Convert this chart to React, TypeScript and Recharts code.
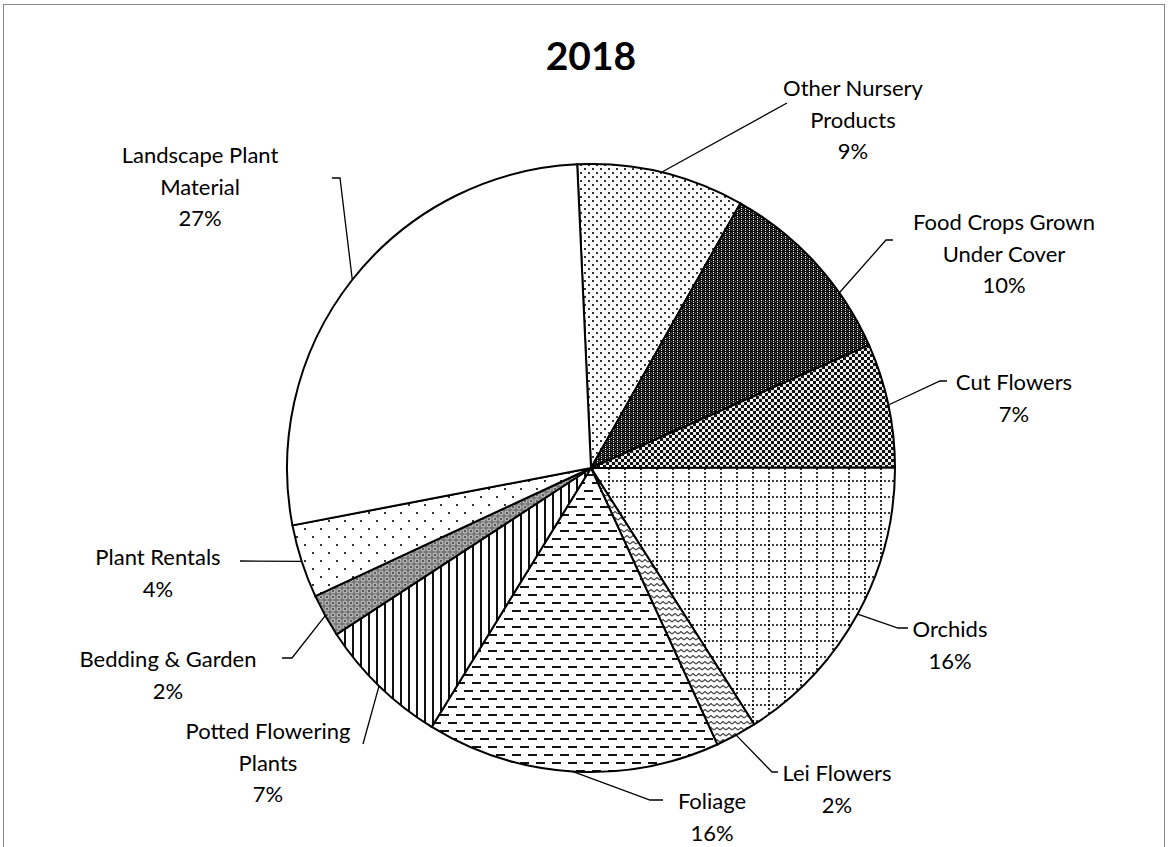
import React from 'react';
import { PieChart, Pie, Cell } from 'recharts';

// slices clockwise from the top, values in percent
const categories = [
  'Other Nursery\nProducts',
  'Food Crops Grown\nUnder Cover',
  'Cut Flowers',
  'Orchids',
  'Lei Flowers',
  'Foliage',
  'Potted Flowering\nPlants',
  'Bedding & Garden',
  'Plant Rentals',
  'Landscape Plant\nMaterial',
];
const shares = [8.9, 10.2, 6.6, 16.0, 2.2, 15.6, 7.0, 2.3, 3.9, 27.3];
const fills = [
  'url(#pOther)',
  'url(#pFood)',
  'url(#pCut)',
  'url(#pOrchid)',
  'url(#pLei)',
  'url(#pFoliage)',
  'url(#pPotted)',
  'url(#pBedding)',
  'url(#pRental)',
  '#ffffff',
];

const data = categories.map((name, i) => ({ name, value: shares[i] }));

// where each data label sits (text centre x, first line y), the leader elbow,
// and how far (deg, clockwise) the leader start is moved off the slice middle
const labelSpots = [
  { x: 853, y: 87, ex: 787, ey: 103, tx: 787, shift: 0 },
  { x: 1004, y: 221, ex: 886, ey: 240, tx: 893, shift: 7 },
  { x: 1014, y: 381, ex: 940, ey: 381, tx: 947, shift: 0 },
  { x: 950, y: 628, ex: 898, ey: 628, tx: 908, shift: 0 },
  { x: 837, y: 772, ex: 772, ey: 772, tx: 778, shift: 0 },
  { x: 712, y: 800, ex: 650, ey: 800, tx: 663, shift: 0 },
  { x: 268, y: 730, ex: 363, ey: 744, tx: 363, shift: 0 },
  { x: 168, y: 658, ex: 292, ey: 658, tx: 282, shift: 0 },
  { x: 158, y: 556, ex: 240, ey: 561, tx: 240, shift: 0 },
  { x: 200, y: 154, ex: 340, ey: 178, tx: 332, shift: 0 },
];

const FONT = 'Lato, "Open Sans", sans-serif';
const RAD = Math.PI / 180;

const renderLabel = (props: any) => {
  const { cx, cy, midAngle, outerRadius, index, percent } = props;
  const spot = labelSpots[index];
  const a = midAngle - spot.shift;
  const sx = cx + outerRadius * Math.cos(-a * RAD);
  const sy = cy + outerRadius * Math.sin(-a * RAD);
  const lines = [...categories[index].split('\n'), `${Math.round(percent * 100)}%`];
  return (
    <g key={`lbl-${index}`}>
      <polyline
        points={`${sx},${sy} ${spot.ex},${spot.ey} ${spot.tx},${spot.ey}`}
        fill="none"
        stroke="#000"
        strokeWidth={1.3}
      />
      <text
        x={spot.x}
        y={spot.y}
        textAnchor="middle"
        dominantBaseline="central"
        fontFamily={FONT}
        fontSize={22}
        fill="#000"
      >
        {lines.map((l, i) => (
          <tspan key={i} x={spot.x} dy={i === 0 ? 0 : 31.5}>
            {l}
          </tspan>
        ))}
      </text>
    </g>
  );
};

export default function App() {
  return (
    <div style={{ position: 'absolute', left: 0, top: 0, width: 1169, height: 847, overflow: 'hidden', background: '#fff' }}>
      <div
        style={{
          position: 'absolute',
          left: 3,
          top: 4,
          width: 1160,
          height: 900,
          border: '1.5px solid #888',
        }}
      />
      <div
        style={{
          position: 'absolute',
          left: 0,
          width: 1182,
          top: 32,
          textAlign: 'center',
          fontFamily: FONT,
          fontWeight: 700,
          fontSize: 39,
          lineHeight: '46px',
        }}
      >
        2018
      </div>
      <div style={{ position: 'absolute', left: 0, top: 0 }}>
        <PieChart width={1169} height={847} margin={{ top: 0, right: 0, bottom: 0, left: 0 }}>
          <defs>
            <pattern id="pOther" width="8" height="8" patternUnits="userSpaceOnUse">
              <rect width="8" height="8" fill="#fff" />
              <rect x="0" y="0" width="2" height="2" fill="#333" />
              <rect x="4" y="4" width="2" height="2" fill="#333" />
            </pattern>
            <pattern id="pFood" width="4" height="4" patternUnits="userSpaceOnUse">
              <rect width="4" height="4" fill="#111" />
              <rect x="1" y="0" width="1" height="1" fill="#fff" />
              <rect x="1" y="2" width="1" height="1" fill="#ddd" />
              <rect x="3" y="1" width="1" height="1" fill="#777" />
            </pattern>
            <pattern id="pCut" width="6" height="6" patternUnits="userSpaceOnUse">
              <rect width="6" height="6" fill="#fff" />
              <rect x="0" y="0" width="3" height="3" fill="#111" />
              <rect x="3" y="3" width="3" height="3" fill="#111" />
              <rect x="3" y="0" width="3" height="3" fill="#bbb" opacity="0.4" />
            </pattern>
            <pattern id="pOrchid" width="16" height="16" patternUnits="userSpaceOnUse">
              <rect width="16" height="16" fill="#fff" />
              <line x1="0" y1="1" x2="16" y2="1" stroke="#000" strokeWidth="1.6" strokeDasharray="2 2" />
              <line x1="1" y1="0" x2="1" y2="16" stroke="#000" strokeWidth="1.6" strokeDasharray="2 2" />
            </pattern>
            <pattern id="pLei" width="6" height="6" patternUnits="userSpaceOnUse">
              <rect width="6" height="6" fill="#fff" />
              <path d="M0 4 L3 1.5 L6 4" fill="none" stroke="#444" strokeWidth="1.2" />
            </pattern>
            <pattern id="pFoliage" width="16" height="16" patternUnits="userSpaceOnUse">
              <rect width="16" height="16" fill="#fff" />
              <rect x="0" y="2" width="9" height="2" fill="#111" />
              <rect x="8" y="10" width="8" height="2" fill="#111" />
              <rect x="0" y="10" width="1" height="2" fill="#111" />
            </pattern>
            <pattern id="pPotted" width="8" height="8" patternUnits="userSpaceOnUse">
              <rect width="8" height="8" fill="#fff" />
              <rect x="0" y="0" width="2" height="8" fill="#111" />
            </pattern>
            <pattern id="pBedding" width="6" height="6" patternUnits="userSpaceOnUse">
              <rect width="6" height="6" fill="#7a7a7a" />
              <circle cx="3" cy="3" r="2" fill="none" stroke="#ddd" strokeWidth="0.8" />
              <rect x="2.5" y="2.5" width="1" height="1" fill="#000" />
            </pattern>
            <pattern id="pRental" width="16" height="16" patternUnits="userSpaceOnUse">
              <rect width="16" height="16" fill="#fff" />
              <rect x="0" y="0" width="2" height="2" fill="#333" />
              <rect x="8" y="8" width="2" height="2" fill="#333" />
            </pattern>
          </defs>
          <Pie
            data={data}
            dataKey="value"
            nameKey="name"
            cx={591}
            cy={468}
            outerRadius={304}
            startAngle={92.6}
            endAngle={-267.4}
            stroke="#000"
            strokeWidth={2}
            label={renderLabel}
            labelLine={false}
            isAnimationActive={false}
          >
            {data.map((d, i) => (
              <Cell key={d.name} fill={fills[i]} stroke="#000" strokeWidth={2} />
            ))}
          </Pie>
        </PieChart>
      </div>
    </div>
  );
}
